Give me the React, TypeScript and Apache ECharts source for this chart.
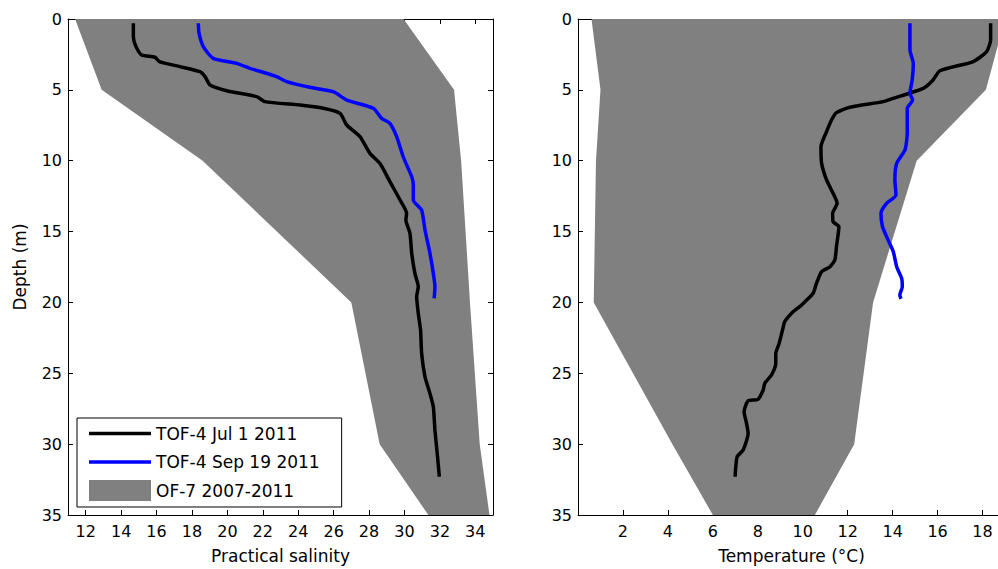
import React, { useEffect, useRef } from "react";
import * as echarts from "echarts";

const FONT = "DejaVu Sans";
const GRAY = "#808080";
const BLUE = "#0000ff";
const BLACK = "#000000";

const NAME_JUL = "TOF-4 Jul 1 2011";
const NAME_SEP = "TOF-4 Sep 19 2011";
const NAME_BAND = "OF-7 2007-2011";
const LINE_ICON = "path://M0,0H62V3.5H0Z";

// Tick labels
const salTicks = [12, 14, 16, 18, 20, 22, 24, 26, 28, 30, 32, 34];
const tempTicks = [2, 4, 6, 8, 10, 12, 14, 16, 18];

// OF-7 envelope (depth, min, max)
const salBandDepth = [0, 5, 10, 20, 30, 35];
const salBandMin = [11.4, 12.9, 18.6, 27.0, 28.6, 31.35];
const salBandMax = [29.95, 32.8, 33.2, 33.7, 34.25, 34.8];

const tempBandDepth = [0, 5, 10, 20, 30, 35];
const tempBandMin = [0.6, 1.0, 0.8, 0.7, 4.2, 6.0];
const tempBandMax = [19.0, 18.15, 15.07, 13.13, 12.29, 10.54];

// TOF-4 Jul 1 2011 salinity profile
const julSal = [14.69, 14.69, 14.84, 15.16, 15.91, 16.16, 17.32, 18.45, 18.74, 19.02, 19.96, 21.65, 22.12, 24.1, 25.42, 26.36, 26.74, 27.49, 28.05, 28.62, 29.18, 29.75, 30.12, 30.08, 30.31, 30.41, 30.59, 30.78, 30.69, 30.78, 30.91, 30.97, 31.16, 31.44, 31.63, 31.72, 31.85, 31.97];
const julSalDepth = [0.3, 1.25, 1.95, 2.54, 2.7, 3.0, 3.36, 3.72, 4.07, 4.66, 5.06, 5.48, 5.83, 6.07, 6.3, 6.66, 7.48, 8.3, 9.48, 10.19, 11.48, 12.77, 13.71, 14.19, 15.12, 16.54, 17.95, 18.89, 19.6, 20.77, 21.95, 23.6, 25.25, 26.42, 27.36, 29.0, 30.65, 32.3];

// TOF-4 Sep 19 2011 salinity profile
const sepSal = [18.36, 18.4, 18.64, 19.2, 20.52, 21.28, 22.78, 23.35, 24.66, 25.98, 26.74, 28.24, 28.71, 29.18, 29.56, 29.93, 30.41, 30.5, 30.5, 30.97, 31.16, 31.44, 31.63, 31.72, 31.68];
const sepSalDepth = [0.3, 1.0, 1.95, 2.78, 3.13, 3.48, 4.07, 4.42, 4.82, 5.13, 5.72, 6.3, 7.01, 7.36, 8.3, 9.72, 11.13, 11.7, 12.77, 13.48, 14.89, 16.54, 17.95, 18.89, 19.71];

// TOF-4 Jul 1 2011 temperature profile
const julTemp = [18.36, 18.36, 18.18, 17.59, 16.1, 15.8, 15.36, 14.02, 13.58, 12.1, 11.5, 11.28, 11.06, 10.81, 10.84, 11.06, 11.35, 11.53, 11.33, 11.35, 11.61, 11.5, 11.43, 11.21, 10.84, 10.61, 10.46, 9.95, 9.57, 9.2, 9.1, 8.95, 8.8, 8.8, 8.61, 8.31, 8.24, 8.01, 7.57, 7.39, 7.5, 7.57, 7.35, 7.08, 6.99];
const julTempDepth = [0.3, 1.48, 2.3, 3.0, 3.65, 4.3, 4.89, 5.6, 5.83, 6.23, 6.61, 7.13, 7.95, 9.01, 10.19, 11.36, 12.3, 13.01, 13.71, 14.3, 14.66, 16.07, 17.0, 17.48, 17.83, 18.66, 19.36, 20.18, 20.66, 21.36, 21.95, 22.89, 23.6, 24.3, 25.12, 25.71, 26.18, 26.84, 26.94, 27.71, 28.53, 29.24, 30.42, 30.89, 32.3];

// TOF-4 Sep 19 2011 temperature profile
const sepTemp = [14.77, 14.77, 14.92, 14.87, 14.77, 14.89, 14.65, 14.65, 14.55, 14.18, 14.1, 14.15, 13.73, 13.48, 13.55, 13.8, 14.03, 14.18, 14.4, 14.43, 14.32, 14.37];
const sepTempDepth = [0.3, 2.19, 3.13, 4.3, 5.24, 5.72, 6.3, 8.07, 9.24, 10.19, 11.36, 12.42, 13.01, 13.71, 14.66, 15.6, 16.42, 17.48, 18.3, 18.89, 19.48, 19.75];

const zip = (xs: number[], ds: number[]) => xs.map((x, i) => [x, ds[i]]);

function bandSeries(depths: number[], mins: number[], maxs: number[], idx: number) {
  const pts = [
    ...depths.map((d, i) => [maxs[i], d]),
    ...depths.map((d, i) => [mins[i], d]).reverse(),
  ];
  return {
    type: "custom",
    name: NAME_BAND,
    xAxisIndex: idx * 2,
    yAxisIndex: idx * 2,
    itemStyle: { color: GRAY },
    data: pts,
    encode: { x: 0, y: 1 },
    silent: true,
    z: 1,
    renderItem: (params: any, api: any) => {
      if (params.dataIndex !== 0) return null;
      const points = pts.map((p) => api.coord(p));
      return { type: "polygon", shape: { points }, style: { fill: GRAY } };
    },
  };
}

function lineSeries(name: string, color: string, data: number[][], idx: number) {
  return {
    type: "line",
    name,
    xAxisIndex: idx * 2,
    yAxisIndex: idx * 2,
    data,
    symbol: "none",
    showSymbol: false,
    smooth: 0.2,
    lineStyle: { color, width: 3.5 },
    itemStyle: { color },
    z: 3,
    silent: true,
  };
}

const axisLine = { show: true, onZero: false, lineStyle: { color: BLACK, width: 1 } };
const labelStyle = { color: BLACK, fontFamily: FONT, fontSize: 16 };
const nameStyle = { color: BLACK, fontFamily: FONT, fontSize: 17 };

function xAxes(gridIndex: number, min: number, max: number, ticks: number[], name: string) {
  return [
    {
      type: "value",
      gridIndex,
      min,
      max,
      position: "bottom",
      axisLine,
      axisTick: { show: true, inside: true, length: 5, customValues: ticks, lineStyle: { color: BLACK } },
      axisLabel: { ...labelStyle, margin: 8, customValues: ticks },
      splitLine: { show: false },
      name,
      nameLocation: "middle",
      nameGap: 32,
      nameTextStyle: nameStyle,
    },
    {
      type: "value",
      gridIndex,
      min,
      max,
      position: "top",
      axisLine,
      axisTick: { show: true, inside: true, length: 5, customValues: ticks, lineStyle: { color: BLACK } },
      axisLabel: { show: false },
      splitLine: { show: false },
    },
  ];
}

function yAxes(gridIndex: number, name?: string) {
  return [
    {
      type: "value",
      gridIndex,
      min: 0,
      max: 35,
      interval: 5,
      inverse: true,
      position: "left",
      axisLine,
      axisTick: { show: true, inside: true, length: 5, lineStyle: { color: BLACK } },
      axisLabel: { ...labelStyle, margin: 6 },
      splitLine: { show: false },
      name: name || "",
      nameLocation: "middle",
      nameGap: 40,
      nameRotate: 90,
      nameTextStyle: nameStyle,
    },
    {
      type: "value",
      gridIndex,
      min: 0,
      max: 35,
      interval: 5,
      inverse: true,
      position: "right",
      axisLine,
      axisTick: { show: true, inside: true, length: 5, lineStyle: { color: BLACK } },
      axisLabel: { show: false },
      splitLine: { show: false },
    },
  ];
}

export default function App() {
  const ref = useRef<HTMLDivElement>(null);
  useEffect(() => {
    const chart = echarts.init(ref.current!, null, { renderer: "svg" });
    const option: any = {
      animation: false,
      backgroundColor: "#ffffff",
      grid: [
        { left: 68, top: 19, width: 425, height: 496, outerBoundsMode: "none", containLabel: false },
        { left: 578, top: 19, width: 427, height: 496, outerBoundsMode: "none", containLabel: false },
      ],
      xAxis: [
        ...xAxes(0, 11, 35, salTicks, "Practical salinity"),
        ...xAxes(1, 0, 19, tempTicks, "Temperature (°C)"),
      ],
      yAxis: [...yAxes(0, "Depth (m)"), ...yAxes(1)],
      legend: {
        orient: "vertical",
        left: 77,
        top: 418,
        itemWidth: 62,
        itemHeight: 21,
        itemGap: 7.5,
        padding: [5, 22, 6, 12],
        borderColor: BLACK,
        borderWidth: 1,
        borderRadius: 0,
        backgroundColor: "#ffffff",
        selectedMode: false,
        textStyle: { fontFamily: FONT, fontSize: 17, color: BLACK, lineHeight: 21 },
        data: [
          { name: NAME_JUL, icon: LINE_ICON, itemStyle: { color: BLACK } },
          { name: NAME_SEP, icon: LINE_ICON, itemStyle: { color: BLUE } },
          { name: NAME_BAND, icon: "rect", itemStyle: { color: GRAY } },
        ],
      },
      series: [
        bandSeries(salBandDepth, salBandMin, salBandMax, 0),
        lineSeries(NAME_JUL, BLACK, zip(julSal, julSalDepth), 0),
        lineSeries(NAME_SEP, BLUE, zip(sepSal, sepSalDepth), 0),
        bandSeries(tempBandDepth, tempBandMin, tempBandMax, 1),
        lineSeries(NAME_JUL, BLACK, zip(julTemp, julTempDepth), 1),
        lineSeries(NAME_SEP, BLUE, zip(sepTemp, sepTempDepth), 1),
      ],
    };
    chart.setOption(option);
    return () => chart.dispose();
  }, []);
  return (
    <div
      ref={ref}
      style={{ position: "fixed", left: 0, top: 0, width: 998, height: 569 }}
    />
  );
}
